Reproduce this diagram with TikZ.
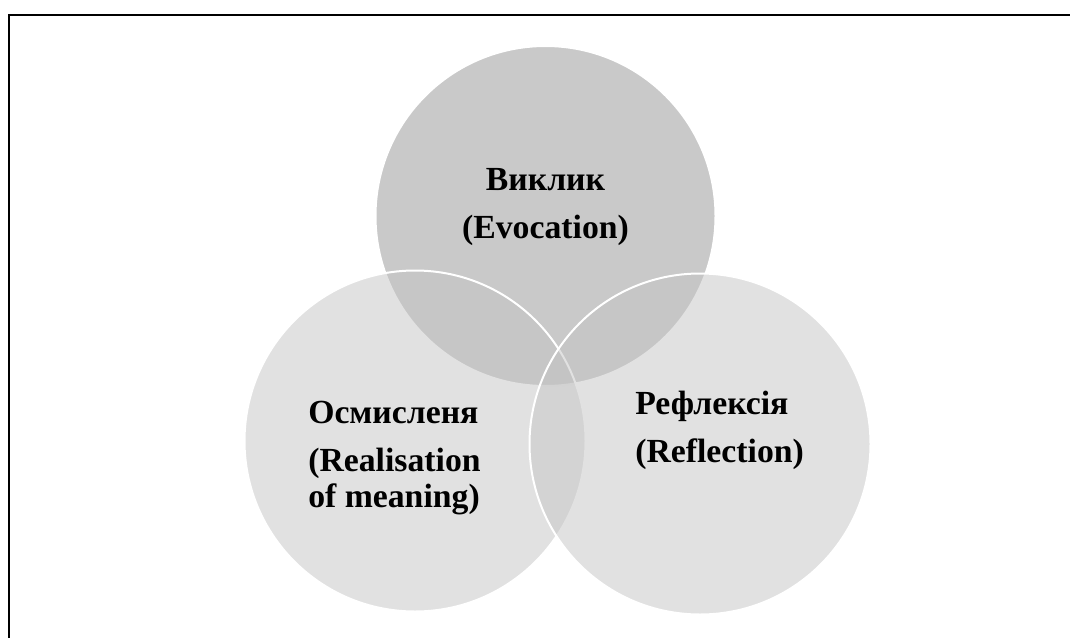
\documentclass[tikz,border=0pt]{standalone}
\usepackage{fontspec}
\setmainfont{Liberation Serif}
\newfontfamily\tnrbold{Liberation Serif Bold}
\definecolor{topgray}{RGB}{201,201,201}
\definecolor{ringgray}{RGB}{196,196,196}
\tikzset{
  ring/.style={fill=ringgray,fill opacity=0.5,draw=white,line width=1.5pt},
  lbl/.style={inner sep=0pt,font=\tnrbold\fontsize{25.3}{27}\selectfont}
}
\begin{document}
\begin{tikzpicture}[x=0.75pt,y=0.75pt]
		\useasboundingbox (0,0) rectangle (1070,637);
		\clip (0,0) rectangle (1070,637);
		\draw[line width=1.2pt] (9,-20) -- (9,622) -- (1100,622);
		\filldraw[fill=topgray,draw=white,line width=1.5pt] (545.5,421) circle (170);
		\filldraw[ring] (415,196) circle (170.5);
		\filldraw[ring] (700,193) circle (170.5);
		\node[lbl,align=center,anchor=base] (evoc) at (545.5,399) {Виклик\\[9pt](Evocation)};
		\node[lbl,align=left,anchor=base west] (real) at (308,130) {Осмисленя\\[9pt](Realisation\\of meaning)};
		\node[lbl,align=left,anchor=base west] (refl) at (635,175) {Рефлексія\\[9pt](Reflection)};
	\end{tikzpicture}
\end{document}
